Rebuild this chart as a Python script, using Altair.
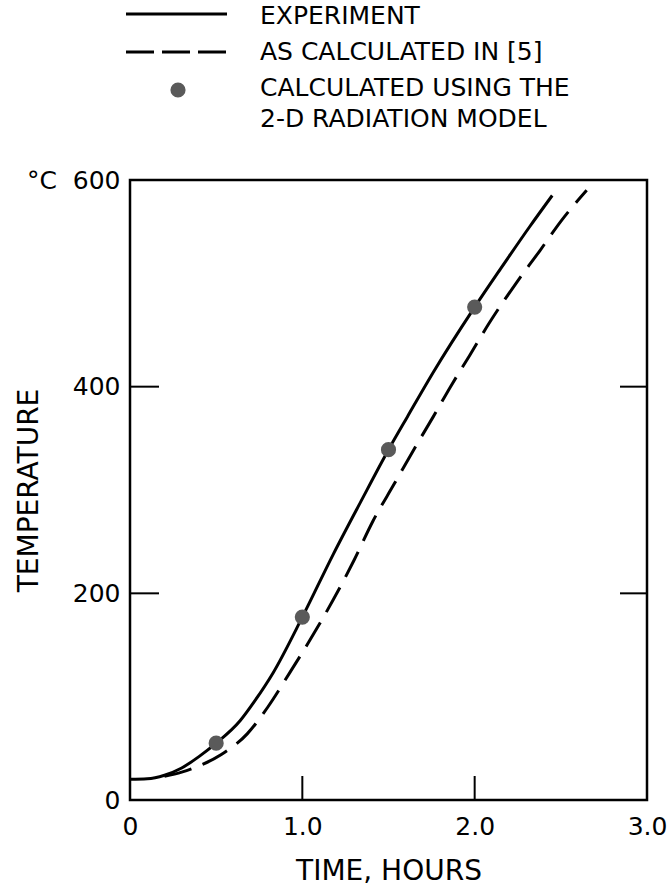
import altair as alt
import pandas as pd

# ---- data ----
exp_time = [0.0, 0.1, 0.2, 0.3, 0.4, 0.5, 0.64, 0.72, 0.83, 1.0, 1.18, 1.34, 1.5, 1.61, 1.76, 2.0, 2.15, 2.32, 2.45]
exp_temp = [20, 20.5, 24, 31, 42, 55, 77, 95, 123, 177, 238, 289, 339, 371, 414, 477, 514, 555, 585]

ref_time = [0.2, 0.3, 0.37, 0.53, 0.68, 0.80, 0.93, 1.07, 1.18, 1.30, 1.41, 1.53, 1.65, 1.76, 1.86, 1.97, 2.09, 2.24, 2.38, 2.50, 2.65]
ref_temp = [23, 27, 31, 44, 64, 90, 124, 162, 194, 232, 270, 305, 340, 371, 400, 430, 463, 500, 532, 560, 590]

model_time = [0.5, 1.0, 1.5, 2.0]
model_temp = [55, 177, 339, 477]

x_tick_values = [0, 1, 2, 3]
y_tick_values = [0, 200, 400, 600]
x_inner_ticks = [1.0, 2.0]
y_inner_ticks = [200, 400]

legend_labels = ["EXPERIMENT", "AS CALCULATED IN [5]", "CALCULATED USING THE\n2-D RADIATION MODEL"]
x_title = "TIME, HOURS"
y_title = "TEMPERATURE"
y_unit = "°C\u00a0\u00a0"

# ---- styling ----
W, H = 517, 620
FONT = "DejaVu Sans"
LFS = 25   # tick labels
TFS = 28   # axis titles
GFS = 25   # legend text
INK = "black"

xs = alt.Scale(domain=[0, 3], nice=False, zero=False)
ys = alt.Scale(domain=[0, 600], nice=False, zero=False)

X = alt.X(
    "t:Q", scale=xs,
    axis=alt.Axis(
        values=x_tick_values,
        labelExpr="datum.value == 0 ? '0' : format(datum.value, '.1f')",
        ticks=False, domain=False, grid=False,
        labelFlush=False, labelOverlap=False, labelBound=False,
        labelFont=FONT, labelFontSize=LFS, labelColor=INK, labelPadding=14,
        title=x_title, titleFont=FONT, titleFontSize=TFS, titleFontWeight="normal",
        titleColor=INK, titleX=W / 2, titleY=71, titleAlign="center", titleBaseline="middle",
    ),
)
Y = alt.Y(
    "T:Q", scale=ys,
    axis=alt.Axis(
        values=y_tick_values,
        labelExpr=f"datum.value == 600 ? '{y_unit}' + datum.label : datum.label",
        ticks=False, domain=False, grid=False,
        labelFlush=False, labelOverlap=False, labelBound=False,
        labelFont=FONT, labelFontSize=LFS, labelColor=INK, labelPadding=10,
        title=y_title, titleFont=FONT, titleFontSize=TFS, titleFontWeight="normal",
        titleColor=INK, titleX=-101, titleY=H / 2, titleAngle=270,
        titleAlign="center", titleBaseline="middle",
    ),
)

exp_df = pd.DataFrame({"t": exp_time, "T": exp_temp})
ref_df = pd.DataFrame({"t": ref_time, "T": ref_temp})
model_df = pd.DataFrame({"t": model_time, "T": model_temp})
xt_df = pd.DataFrame({"t": x_inner_ticks})
yt_df = pd.DataFrame({"T": y_inner_ticks})

exp_line = alt.Chart(exp_df).mark_line(color=INK, strokeWidth=3, interpolate="monotone").encode(x=X, y=Y)
ref_line = alt.Chart(ref_df).mark_line(color=INK, strokeWidth=3, strokeDash=[28, 12],
                                       interpolate="monotone").encode(x=X, y=Y)
model_pts = alt.Chart(model_df).mark_circle(color="#5a5a5a", opacity=1, size=230).encode(x=X, y=Y)

ytick_left = alt.Chart(yt_df).mark_rule(color=INK, strokeWidth=2).encode(
    y=Y, x=alt.value(0), x2=alt.value(29))
ytick_right = alt.Chart(yt_df).mark_rule(color=INK, strokeWidth=2).encode(
    y=Y, x=alt.value(W - 27), x2=alt.value(W))
xtick_bottom = alt.Chart(xt_df).mark_rule(color=INK, strokeWidth=2).encode(
    x=X, y=alt.value(H - 24), y2=alt.value(H))

# ---- legend (drawn above the plot) ----
leg1 = pd.DataFrame({"label": [legend_labels[0]]})
leg2 = pd.DataFrame({"label": [legend_labels[1]]})
leg3 = pd.DataFrame({"label": [legend_labels[2]]})

LX0, LX1, LTX = -4, 97, 130
leg_solid = alt.Chart(leg1).mark_rule(color=INK, strokeWidth=3).encode(
    x=alt.value(LX0), x2=alt.value(LX1), y=alt.value(-166))
leg_dash = alt.Chart(leg2).mark_rule(color=INK, strokeWidth=3, strokeDash=[28, 8]).encode(
    x=alt.value(LX0), x2=alt.value(LX1), y=alt.value(-128))
leg_dot = alt.Chart(leg3).mark_circle(color="#5a5a5a", opacity=1, size=230).encode(
    x=alt.value(48), y=alt.value(-90))

txt_kw = dict(align="left", baseline="alphabetic", font=FONT, fontSize=GFS, color=INK)
leg_t1 = alt.Chart(leg1).mark_text(**txt_kw).encode(
    text="label:N", x=alt.value(LTX), y=alt.value(-156))
leg_t2 = alt.Chart(leg2).mark_text(**txt_kw).encode(
    text="label:N", x=alt.value(LTX), y=alt.value(-120))
leg_t3 = alt.Chart(leg3).mark_text(lineBreak="\n", lineHeight=31, **txt_kw).encode(
    text="label:N", x=alt.value(LTX), y=alt.value(-84))

chart = alt.layer(
    exp_line, ref_line, model_pts,
    ytick_left, ytick_right, xtick_bottom,
    leg_solid, leg_dash, leg_dot, leg_t1, leg_t2, leg_t3,
).properties(
    width=W, height=H,
    padding={"left": 130, "top": 180, "right": 22, "bottom": 90},
    autosize=alt.AutoSizeParams(type="none"),
    background="white",
).configure_view(stroke=INK, strokeWidth=2.5)

chart.save("out.html", embed_options={"renderer": "svg", "actions": False})
